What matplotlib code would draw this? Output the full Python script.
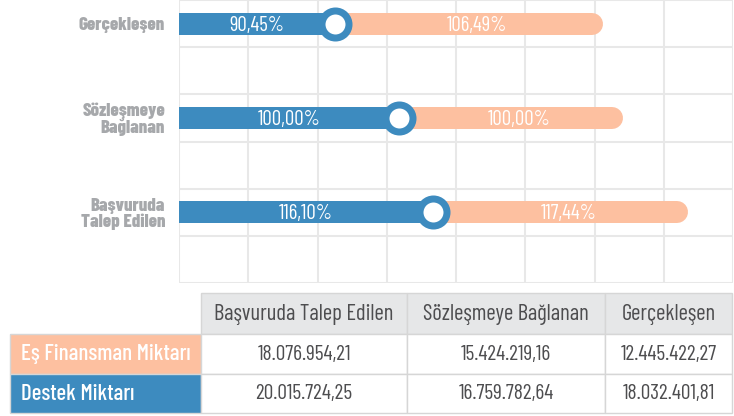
import matplotlib
matplotlib.use("Agg")
import matplotlib.pyplot as plt
from matplotlib.patches import Rectangle

plt.rcParams['font.family'] = ['Barlow Condensed', 'DejaVu Sans']

# veriler
kategoriler = ['Gerçekleşen', 'Sözleşmeye\nBağlanan', 'Başvuruda\nTalep Edilen']
destek_orani = ['90,45%', '100,00%', '116,10%']
es_fin_orani = ['106,49%', '100,00%', '117,44%']
mavi_uzunluk = [2.25, 3.18, 3.67]     # mavi çubuğun bittiği yer (ızgara birimi)
turuncu_uzunluk = [6.12, 6.41, 7.35]  # turuncu çubuğun bittiği yer

sutunlar = ['Başvuruda Talep Edilen', 'Sözleşmeye Bağlanan', 'Gerçekleşen']
satirlar = ['Eş Finansman Miktarı', 'Destek Miktarı']
es_finansman = ['18.076.954,21', '15.424.219,16', '12.445.422,27']
destek = ['20.015.724,25', '16.759.782,64', '18.032.401,81']

mavi = '#3d8bbf'
turuncu = '#fdc0a0'
gri_yazi = '#a6a8ab'
koyu_yazi = '#4d4d4f'
izgara = '#e8e8e8'

W, H = 734, 416
fig = plt.figure(figsize=(W / 100, H / 100), dpi=100)

# grafik alanı
x0, x1, y1 = 179, 733, 283
ax = fig.add_axes([x0 / W, 1 - y1 / H, (x1 - x0) / W, y1 / H])
ax.set_xlim(0, 8)
ax.set_ylim(6, 0)
px = (x1 - x0) / 8  # bir birim kaç piksel

ax.set_xticks(range(9), minor=True)
ax.set_yticks(range(7), minor=True)
ax.grid(which='minor', color=izgara, lw=1.5)
ax.set_xticks([])
ypos = [0.5, 2.5, 4.5]
ax.set_yticks(ypos, labels=kategoriler)
ax.tick_params(which='both', length=0)
ax.tick_params(axis='y', pad=10, labelcolor=gri_yazi, labelsize=13.5)
for lbl in ax.get_yticklabels():
    lbl.set_fontweight('heavy')
    lbl.set_linespacing(1.0)
for s in ax.spines.values():
    s.set_visible(False)
ax.set_axisbelow(True)

halka = 17 / px
uc = 11 / px
kay = 1.5 / (y1 / 6)  # yazıyı biraz aşağı al
for i, y in enumerate(ypos):
    b = mavi_uzunluk[i]
    o = turuncu_uzunluk[i]
    ax.plot([b, o - uc], [y, y], color=turuncu, lw=22 * 0.72,
            solid_capstyle='round', zorder=2)
    ax.barh(y, b, height=0.466, color=mavi, zorder=3)
    ax.plot(b, y, 'o', ms=27 * 0.72, mew=7 * 0.72, mfc='white', mec=mavi, zorder=5)
    ax.text(b / 2, y + kay, destek_orani[i], color='white', fontsize=15,
            ha='center', va='center', zorder=6)
    ax.text((b + halka + o) / 2, y + kay, es_fin_orani[i], color='white', fontsize=15,
            ha='center', va='center', zorder=6)

# tablo
tb = fig.add_axes([0, 0, 1, 1])
tb.set_xlim(0, W)
tb.set_ylim(H, 0)
tb.axis('off')
kx = [10, 201, 407, 605, 732]
ky = [293, 334, 374, 413]
kenar = '#d6d6d6'

for j, baslik in enumerate(sutunlar):
    tb.add_patch(Rectangle((kx[j + 1], ky[0]), kx[j + 2] - kx[j + 1], ky[1] - ky[0],
                           facecolor='#e6e7e8', edgecolor=kenar, lw=1))
    tb.text((kx[j + 1] + kx[j + 2]) / 2, (ky[0] + ky[1]) / 2 + 1, baslik,
            color=koyu_yazi, fontsize=16.3, ha='center', va='center')

satir_renk = [turuncu, mavi]
satir_deger = [es_finansman, destek]
for r in range(2):
    ya, yb = ky[r + 1], ky[r + 2]
    tb.add_patch(Rectangle((kx[0], ya), kx[1] - kx[0], yb - ya,
                           facecolor=satir_renk[r], edgecolor=kenar, lw=1))
    tb.text(kx[0] + 11, (ya + yb) / 2, satirlar[r], color='white',
            fontsize=16.5, fontweight='medium', ha='left', va='center')
    for j in range(3):
        tb.add_patch(Rectangle((kx[j + 1], ya), kx[j + 2] - kx[j + 1], yb - ya,
                               facecolor='white', edgecolor=kenar, lw=1))
        tb.text((kx[j + 1] + kx[j + 2]) / 2, (ya + yb) / 2, satir_deger[r][j],
                color=koyu_yazi, fontsize=15.5, ha='center', va='center')

fig.savefig('out.png', dpi=100)
